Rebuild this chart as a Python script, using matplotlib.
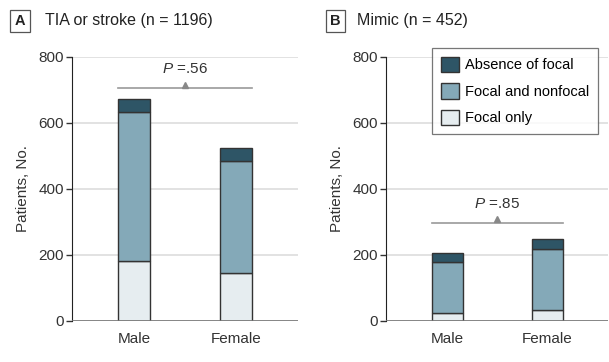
import matplotlib
matplotlib.use('Agg')
import matplotlib.pyplot as plt
from matplotlib.patches import Patch
import numpy as np

plt.rcParams['font.family'] = ['Liberation Sans', 'DejaVu Sans']
plt.rcParams['font.size'] = 11
plt.rcParams['mathtext.fontset'] = 'custom'
plt.rcParams['mathtext.it'] = 'Liberation Sans:italic'
plt.rcParams['mathtext.rm'] = 'Liberation Sans'

sexes = ["Male", "Female"]
labels = ["Focal only", "Focal and nonfocal", "Absence of focal"]
colors = ["#e6edf0", "#84a9b8", "#2e5566"]

# panel A: TIA or stroke
a_focal = [183, 146]
a_both = [451, 339]
a_absent = [39, 38]
a_p = "=.56"
a_bracket = 705

# panel B: mimic
b_focal = [24, 32]
b_both = [156, 185]
b_absent = [25, 30]
b_p = "=.85"
b_bracket = 298

fig = plt.figure(figsize=(6.09, 3.62), dpi=100)
W, H = 609, 362


def draw_panel(ax, focal, both, absent, ptxt, bracket):
    x = np.arange(len(sexes))
    bottom = np.zeros(len(sexes))
    for vals, c in zip([focal, both, absent], colors):
        ax.bar(x, vals, 0.31, bottom=bottom, color=c,
               edgecolor="#333333", linewidth=1.0, zorder=3)
        bottom += np.array(vals)
    ax.set_xlim(-0.61, 1.61)
    ax.set_ylim(0, 800)
    ax.set_yticks([0, 200, 400, 600, 800])
    ax.set_xticks(x)
    ax.set_xticklabels(sexes)
    ax.tick_params(axis='x', length=0, pad=8, labelcolor="#333333")
    ax.tick_params(axis='y', length=4, width=1, color="#333333",
                   labelcolor="#333333", pad=2)
    ax.grid(axis='y', color="#dddddd", linewidth=1.2, zorder=0)
    ax.axhline(0, color="#777777", linewidth=1.2, zorder=4)
    ax.spines['top'].set_visible(False)
    ax.spines['right'].set_visible(False)
    ax.spines['bottom'].set_visible(False)
    ax.spines['left'].set_color("#222222")
    ax.set_ylabel("Patients, No.", color="#333333", labelpad=6)
    # p-value bracket
    ax.plot([-0.155, 1.155], [bracket, bracket], color="#999999",
            linewidth=1.2, zorder=3)
    ax.plot([0.5], [bracket + 10], marker="^", color="#888888",
            markersize=5, zorder=3)
    ax.text(0.5, bracket + 36, r"$\it{P}$ " + ptxt, ha="center",
            va="bottom", color="#333333")


axA = fig.add_axes([72 / W, 41 / H, 226 / W, 264 / H])
draw_panel(axA, a_focal, a_both, a_absent, a_p, a_bracket)

axB = fig.add_axes([386 / W, 41 / H, 222 / W, 264 / H])
draw_panel(axB, b_focal, b_both, b_absent, b_p, b_bracket)

# panel titles
for lx, tx, letter, title in [(20, 45, "A", "TIA or stroke (n = 1196)"),
                               (335.5, 357, "B", "Mimic (n = 452)")]:
    fig.text(lx / W, 1 - 21 / H, letter, ha="center", va="center",
             fontweight="bold", fontsize=10.5, color="#222222",
             bbox=dict(boxstyle="square,pad=0.3", fc="white",
                       ec="#555555", lw=0.9))
    fig.text(tx / W, 1 - 21 / H, title, ha="left", va="center",
             fontsize=11.5, color="#222222")

handles = [Patch(facecolor=c, edgecolor="#333333", label=l)
           for c, l in zip(colors[::-1], labels[::-1])]
leg = axB.legend(handles=handles, loc="upper left",
                 bbox_to_anchor=((432 - 386) / 222, 1 + (57 - 48) / 264),
                 frameon=True, fancybox=False, edgecolor="#555555",
                 handlelength=1.25, handleheight=1.25, handletextpad=0.4,
                 labelspacing=0.75, borderpad=0.6, borderaxespad=0,
                 fontsize=10.5)
leg.get_frame().set_linewidth(0.9)
leg.set_zorder(10)

fig.savefig("out.png", dpi=100, facecolor="white")
